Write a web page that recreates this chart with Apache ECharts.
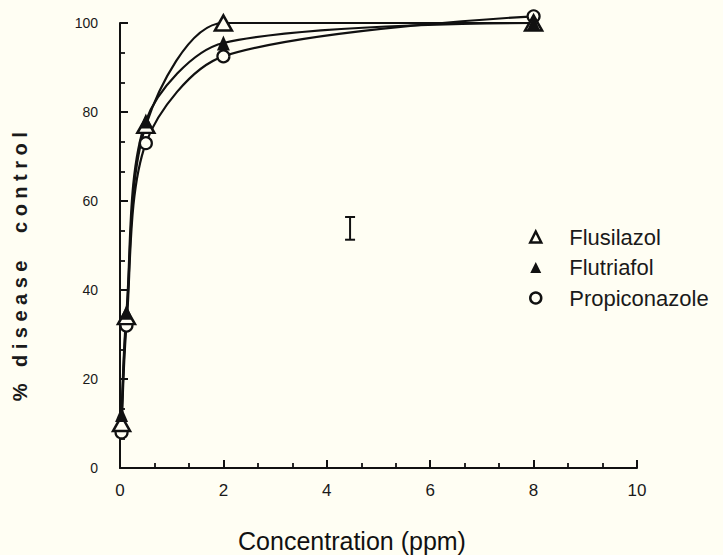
<!DOCTYPE html>
<html>
<head>
<meta charset="utf-8">
<script src="https://cdn.jsdelivr.net/npm/echarts@6/dist/echarts.min.js"></script>
<style>
  html, body { margin: 0; padding: 0; background: #fffef3; }
  #chart { width: 723px; height: 555px; }
</style>
</head>
<body>
<div id="chart"></div>
<script>
// Fungicide concentration (ppm) and resulting % disease control
const concentrations = [0.03, 0.125, 0.5, 2, 8];
const flusilazol = [10, 34, 77, 100, 100];
const flutriafol = [12, 35, 78, 95.5, 100];
const propiconazole = [8, 32, 73, 92.5, 101.5];
// Least significant difference bar: [x, low, high]
const lsdBar = [4.45, 51.3, 56.4];

const xTickValues = [0, 2, 4, 6, 8, 10];
const yTickValues = [0, 20, 40, 60, 80, 100];

const yTitle = '% disease  control';
const xTitle = 'Concentration (ppm)';

const BG = '#fffef3';
const INK = '#111';

function pairs(ys) {
  return concentrations.map((c, i) => [c, ys[i]]);
}

const chart = echarts.init(document.getElementById('chart'), null, { renderer: 'svg' });

const axisCommon = {
  axisLine: { show: true, lineStyle: { color: INK, width: 2 } },
  axisTick: { show: true, inside: true, length: 8, lineStyle: { color: INK, width: 2 } },
  minorTick: { show: true, splitNumber: 3, length: 5, lineStyle: { color: INK, width: 1.8 } },
  splitLine: { show: false },
  minorSplitLine: { show: false }
};

const curveStyle = { smooth: 0.3, clip: false };

chart.setOption({
  backgroundColor: BG,
  animation: false,
  grid: { left: 120, right: 86, top: 23, bottom: 87 },
  xAxis: Object.assign({
    type: 'value',
    min: xTickValues[0],
    max: xTickValues[xTickValues.length - 1],
    interval: 2,
    axisLabel: {
      margin: 14,
      fontFamily: 'Liberation Sans',
      fontSize: 17,
      color: '#1a1a1a',
      showMinLabel: true,
      showMaxLabel: true
    }
  }, axisCommon),
  yAxis: Object.assign({
    type: 'value',
    min: yTickValues[0],
    max: yTickValues[yTickValues.length - 1],
    interval: 20,
    axisLabel: {
      margin: 22,
      fontFamily: 'Liberation Sans',
      fontSize: 14,
      color: '#1a1a1a'
    }
  }, axisCommon),
  legend: {
    orient: 'vertical',
    left: 524,
    top: 221,
    itemWidth: 11,
    itemHeight: 11,
    itemGap: 8.5,
    selectedMode: false,
    textStyle: {
      fontFamily: 'Liberation Sans',
      fontSize: 22,
      lineHeight: 22,
      color: '#1a1a1a',
      padding: [0, 0, 0, 23]
    },
    data: [
      { name: 'Flusilazol', icon: 'triangle', itemStyle: { color: BG, borderColor: INK, borderWidth: 2.5 } },
      { name: 'Flutriafol', icon: 'triangle', itemStyle: { color: INK, borderColor: INK, borderWidth: 0 } },
      { name: 'Propiconazole', icon: 'circle', itemStyle: { color: BG, borderColor: INK, borderWidth: 2.5 } }
    ]
  },
  graphic: [
    {
      type: 'text',
      x: 20,
      y: 264,
      rotation: Math.PI / 2,
      style: {
        text: yTitle,
        font: 'bold 20px "Liberation Sans"',
        fill: '#1a1a1a',
        textAlign: 'center',
        textVerticalAlign: 'middle'
      }
    },
    {
      type: 'text',
      x: 352,
      y: 541,
      style: {
        text: xTitle,
        font: '25px "Liberation Sans"',
        fill: '#111',
        textAlign: 'center',
        textVerticalAlign: 'middle'
      }
    }
  ],
  series: [
    Object.assign({
      name: 'Propiconazole',
      type: 'line',
      data: pairs(propiconazole),
      symbol: 'circle',
      symbolSize: 12,
      lineStyle: { color: INK, width: 2.2 },
      itemStyle: { color: BG, borderColor: INK, borderWidth: 2.2 }
    }, curveStyle),
    Object.assign({
      name: 'Flusilazol',
      type: 'line',
      data: pairs(flusilazol),
      symbol: 'triangle',
      symbolSize: [17, 15],
      lineStyle: { color: INK, width: 2.2 },
      itemStyle: { color: BG, borderColor: INK, borderWidth: 2.5 }
    }, curveStyle),
    Object.assign({
      name: 'Flutriafol',
      type: 'line',
      data: pairs(flutriafol),
      symbol: 'triangle',
      symbolSize: [13, 15],
      lineStyle: { color: INK, width: 2.2 },
      itemStyle: { color: INK, borderColor: INK, borderWidth: 0 }
    }, curveStyle),
    {
      name: 'LSD',
      type: 'custom',
      data: [lsdBar],
      encode: { x: 0, y: [1, 2] },
      renderItem: function (params, api) {
        const x = api.value(0);
        const lo = api.coord([x, api.value(1)]);
        const hi = api.coord([x, api.value(2)]);
        const cap = 5;
        const st = { stroke: INK, lineWidth: 2 };
        return {
          type: 'group',
          children: [
            { type: 'line', shape: { x1: lo[0], y1: lo[1], x2: hi[0], y2: hi[1] }, style: st },
            { type: 'line', shape: { x1: lo[0] - cap, y1: lo[1], x2: lo[0] + cap, y2: lo[1] }, style: st },
            { type: 'line', shape: { x1: hi[0] - cap, y1: hi[1], x2: hi[0] + cap, y2: hi[1] }, style: st }
          ]
        };
      }
    }
  ]
});

// Widen the letter spacing of the vertical axis title
function spaceYTitle() {
  document.querySelectorAll('#chart text').forEach(function (el) {
    if (el.textContent.replace(/\s+/g, ' ') === yTitle.replace(/\s+/g, ' ')) {
      el.style.letterSpacing = '5.5px';
      el.style.whiteSpace = 'pre';
      el.setAttribute('xml:space', 'preserve');
    }
  });
}
chart.getZr().flush();
spaceYTitle();
chart.on('finished', spaceYTitle);
</script>
</body>
</html>
